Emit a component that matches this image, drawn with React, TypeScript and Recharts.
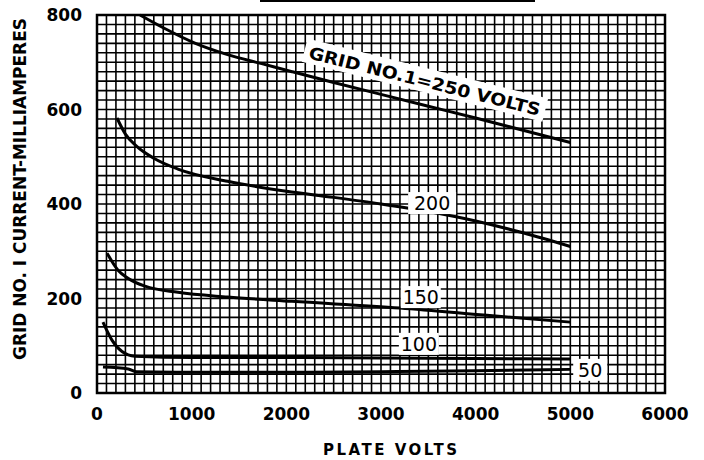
import React from "react";
import {
  LineChart,
  Line,
  XAxis,
  YAxis,
  CartesianGrid,
  ReferenceArea,
  ReferenceDot,
  Label,
} from "recharts";

type Pt = { v: number; ma: number };

// plate volts / grid no.1 milliamperes
const voltLabels = [0, 1000, 2000, 3000, 4000, 5000, 6000];
const maLabels = [0, 200, 400, 600, 800];

const grid250: Pt[] = [
  { v: 454, ma: 800 },
  { v: 700, ma: 773 },
  { v: 1040, ma: 740 },
  { v: 1380, ma: 716 },
  { v: 1740, ma: 697 },
  { v: 2060, ma: 680 },
  { v: 2500, ma: 657 },
  { v: 3000, ma: 632 },
  { v: 3500, ma: 607 },
  { v: 4000, ma: 582 },
  { v: 4500, ma: 556 },
  { v: 5000, ma: 530 },
];

const grid200: Pt[] = [
  { v: 211, ma: 582 },
  { v: 300, ma: 548 },
  { v: 420, ma: 522 },
  { v: 600, ma: 497 },
  { v: 855, ma: 474 },
  { v: 1380, ma: 448 },
  { v: 2000, ma: 427 },
  { v: 2500, ma: 414 },
  { v: 3000, ma: 400 },
  { v: 3500, ma: 384 },
  { v: 4000, ma: 364 },
  { v: 4500, ma: 339 },
  { v: 5000, ma: 310 },
];

const grid150: Pt[] = [
  { v: 106, ma: 296 },
  { v: 222, ma: 260 },
  { v: 327, ma: 243 },
  { v: 507, ma: 226 },
  { v: 855, ma: 213 },
  { v: 1380, ma: 203 },
  { v: 2060, ma: 194 },
  { v: 3200, ma: 180 },
  { v: 4150, ma: 164 },
  { v: 5000, ma: 150 },
];

const grid100: Pt[] = [
  { v: 63, ma: 150 },
  { v: 158, ma: 112 },
  { v: 264, ma: 88 },
  { v: 400, ma: 78 },
  { v: 1000, ma: 75 },
  { v: 2000, ma: 75 },
  { v: 3000, ma: 74 },
  { v: 4000, ma: 73 },
  { v: 5000, ma: 72 },
];

const grid50: Pt[] = [
  { v: 63, ma: 55 },
  { v: 330, ma: 51 },
  { v: 420, ma: 45 },
  { v: 1000, ma: 44 },
  { v: 2000, ma: 44 },
  { v: 3000, ma: 45 },
  { v: 4000, ma: 47 },
  { v: 5000, ma: 50 },
];

const curveTags = [
  { text: "200", v: 3540, ma: 402, w: 48 },
  { text: "150", v: 3420, ma: 203, w: 40 },
  { text: "100", v: 3400, ma: 104, w: 40 },
  { text: "50", v: 5210, ma: 49, w: 34 },
];

const series = [grid250, grid200, grid150, grid100, grid50];

// fine graph-paper rulings: 100 V by 20 mA
const rulings = (max: number, step: number) => {
  const out: number[] = [];
  for (let t = 0; t <= max; t += step) out.push(t);
  return out;
};

const FONT = "'DejaVu Sans', Verdana, sans-serif";

const XTick = (props: any) => {
  const { x, y, payload } = props;
  if (!voltLabels.includes(payload.value)) return <g />;
  return (
    <text x={x} y={y + 25} textAnchor="middle" fontFamily={FONT} fontWeight={700} fontSize={17} fill="#000">
      {payload.value}
    </text>
  );
};

const YTick = (props: any) => {
  const { y, payload } = props;
  if (!maLabels.includes(payload.value)) return <g />;
  return (
    <text x={82} y={y + 6} textAnchor="end" fontFamily={FONT} fontWeight={700} fontSize={17} fill="#000">
      {payload.value}
    </text>
  );
};

const Tag = ({ cx, cy, text, w }: any) => (
  <g>
    <rect x={cx - w / 2} y={cy - 11} width={w} height={22} fill="#fff" />
    <text x={cx} y={cy + 7} textAnchor="middle" fontFamily={FONT} fontWeight={500} fontSize={19} fill="#000">
      {text}
    </text>
  </g>
);

const MainTag = ({ cx, cy }: any) => (
  <g transform={`rotate(14 ${cx} ${cy})`}>
    <rect x={cx - 124} y={cy - 12} width={248} height={24} fill="#fff" />
    <text
      x={cx}
      y={cy + 7}
      textAnchor="middle"
      fontFamily={FONT}
      fontWeight={700}
      fontSize={17}
      textLength={238}
      lengthAdjust="spacingAndGlyphs"
      fill="#000"
    >
      GRID NO.1=250 VOLTS
    </text>
  </g>
);

const YTitle = ({ viewBox }: any) => {
  const cy = viewBox.y + viewBox.height / 2 - 15;
  return (
    <text
      x={26}
      y={cy}
      transform={`rotate(-90 26 ${cy})`}
      textAnchor="middle"
      fontFamily="'DejaVu Sans Condensed', 'DejaVu Sans', sans-serif"
      fontWeight={700}
      fontSize={17}
      textLength={342}
      lengthAdjust="spacingAndGlyphs"
      fill="#000"
    >
      GRID NO. I CURRENT-MILLIAMPERES
    </text>
  );
};

const XTitle = ({ viewBox }: any) => {
  const cx = viewBox.x + viewBox.width / 2 + 9;
  return (
    <text
      x={cx}
      y={455}
      textAnchor="middle"
      fontFamily={FONT}
      fontWeight={700}
      fontSize={15}
      textLength={134}
      lengthAdjust="spacing"
      fill="#000"
    >
      PLATE VOLTS
    </text>
  );
};

export default function App() {
  return (
    <div style={{ position: "fixed", left: 0, top: 0, width: 704, height: 460, background: "#fff" }}>
      <div style={{ position: "absolute", left: 260, top: 0, width: 275, height: 2, background: "#000" }} />
      <LineChart width={704} height={460} margin={{ top: 15, right: 39, bottom: 0, left: 0 }}>
        <CartesianGrid stroke="#000" strokeWidth={1.6} />
        <XAxis
          type="number"
          dataKey="v"
          domain={[0, 6000]}
          ticks={rulings(6000, 100)}
          interval={0}
          tick={XTick}
          tickLine={false}
          axisLine={false}
          tickSize={0}
          height={67}
        >
          <Label content={XTitle} />
        </XAxis>
        <YAxis
          type="number"
          dataKey="ma"
          domain={[0, 800]}
          ticks={rulings(800, 20)}
          interval={0}
          tick={YTick}
          tickLine={false}
          axisLine={false}
          tickSize={0}
          width={97}
        >
          <Label content={YTitle} />
        </YAxis>
        <ReferenceArea x1={0} x2={6000} y1={0} y2={800} fill="none" stroke="#000" strokeWidth={2.5} />
        {series.map((d, i) => (
          <Line
            key={i}
            data={d}
            dataKey="ma"
            type="monotone"
            stroke="#000"
            strokeWidth={3}
            dot={false}
            isAnimationActive={false}
          />
        ))}
        <ReferenceDot x={3464} y={662} r={0} shape={(p: any) => <MainTag {...p} />} />
        {curveTags.map((t) => (
          <ReferenceDot
            key={t.text}
            x={t.v}
            y={t.ma}
            r={0}
            ifOverflow="visible"
            shape={(p: any) => <Tag {...p} text={t.text} w={t.w} />}
          />
        ))}
      </LineChart>
    </div>
  );
}
